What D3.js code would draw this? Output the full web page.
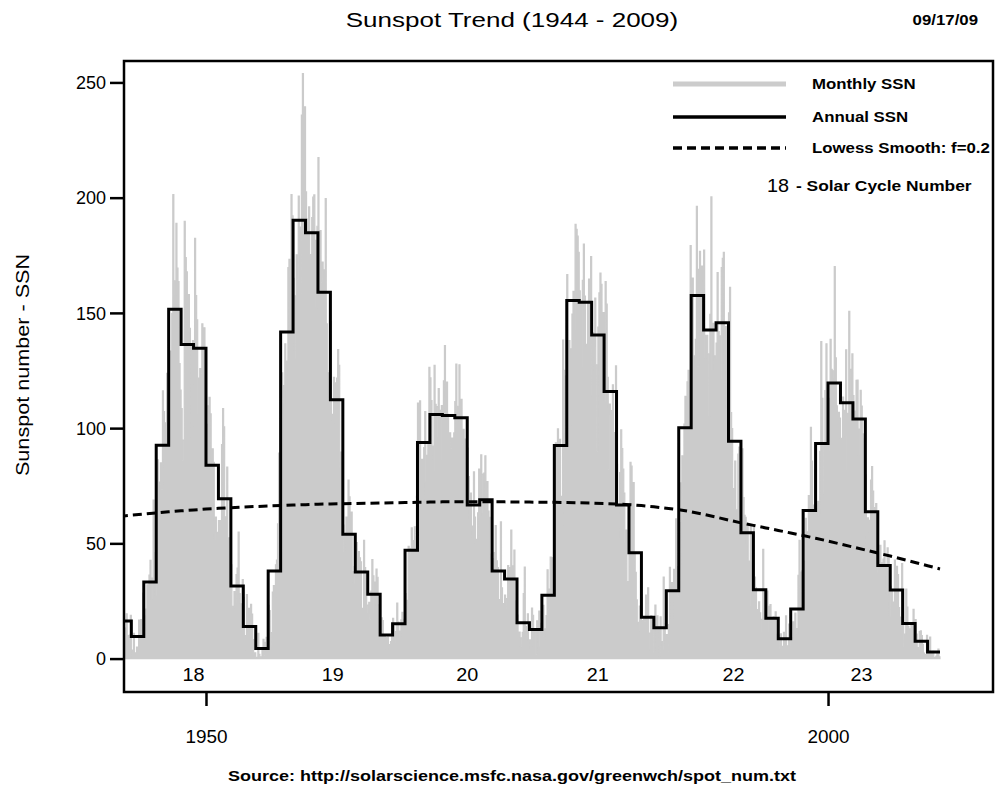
<!DOCTYPE html>
<html lang="en">
  <head>
    <meta charset="utf-8">
    <title>Sunspot Trend</title>
    <script src="https://d3js.org/d3.v7.min.js"></script>
    <style type="text/css">
      body { margin: 0; background: #fff; }
      text { font-family: Arial, "Liberation Sans", sans-serif; fill: #000; }
      .monthly { fill: #cbcbcb; stroke: #cbcbcb; stroke-width: 1.2px; }
      .annual { fill: none; stroke: #000; stroke-width: 3px; }
      .lowess { fill: none; stroke: #000; stroke-width: 3px; stroke-dasharray: 9,5; }
      .frame { fill: none; stroke: #000; stroke-width: 2.5px; }
    </style>
  </head>
  <body>
    <script>
      // monthly sunspot numbers, one row per year starting 1943
      var monthStartYear = 1943;
      var monthlySSN = [
        [12.4, 28.9, 27.4, 26.1, 14.1, 7.6, 13.2, 19.4, 10.0, 7.8, 10.2, 18.8],
        [3.7, 0.5, 11.0, 0.3, 2.5, 5.0, 5.0, 16.7, 14.3, 16.9, 10.8, 28.4],
        [18.5, 12.7, 21.5, 32.0, 30.6, 36.2, 42.6, 25.9, 34.9, 68.8, 46.0, 27.4],
        [47.6, 86.2, 76.6, 75.7, 84.9, 73.5, 116.2, 107.2, 94.4, 102.3, 123.8, 121.7],
        [115.7, 133.4, 129.8, 149.8, 201.3, 163.9, 157.9, 188.8, 169.4, 163.6, 128.0, 116.5],
        [108.5, 86.1, 94.8, 189.7, 174.0, 167.8, 142.2, 157.9, 143.3, 136.3, 95.8, 138.0],
        [119.1, 182.3, 157.5, 147.0, 106.2, 121.7, 125.8, 123.8, 145.3, 131.6, 143.5, 117.6],
        [101.6, 94.8, 109.7, 113.4, 106.2, 83.6, 91.0, 85.2, 51.3, 61.4, 54.8, 54.1],
        [59.9, 59.9, 59.9, 92.9, 108.5, 100.6, 61.5, 61.0, 83.1, 51.6, 52.4, 45.8],
        [40.7, 22.7, 22.0, 29.1, 23.4, 36.4, 39.3, 54.9, 28.2, 23.8, 22.1, 34.3],
        [26.5, 3.9, 10.0, 27.8, 12.5, 21.8, 8.6, 23.5, 19.3, 8.2, 1.6, 2.5],
        [0.2, 0.5, 10.9, 1.8, 0.8, 0.2, 4.8, 8.4, 1.5, 7.0, 9.2, 7.6],
        [23.1, 20.8, 4.9, 11.3, 28.9, 31.7, 26.7, 40.7, 42.7, 58.5, 89.2, 76.9],
        [73.6, 124.0, 118.4, 110.7, 136.6, 116.6, 129.1, 169.6, 173.2, 155.3, 201.3, 192.1],
        [165.0, 130.2, 157.4, 175.2, 164.6, 200.7, 187.2, 158.0, 235.8, 253.8, 210.9, 239.4],
        [202.5, 164.9, 190.7, 196.0, 175.3, 171.5, 191.4, 200.2, 201.2, 181.5, 152.3, 187.6],
        [217.4, 143.1, 185.7, 163.3, 172.0, 168.7, 149.6, 199.6, 145.2, 111.4, 124.0, 125.0],
        [146.3, 106.0, 102.2, 122.0, 119.6, 110.2, 121.7, 134.1, 127.2, 82.8, 89.6, 85.6],
        [57.9, 46.1, 53.0, 61.4, 51.0, 77.4, 70.2, 55.8, 63.6, 37.7, 32.6, 39.9],
        [38.7, 50.3, 45.6, 46.4, 43.7, 42.0, 21.8, 21.8, 51.3, 39.5, 26.9, 23.2],
        [19.8, 24.4, 17.1, 29.3, 43.0, 35.9, 19.6, 33.2, 38.8, 35.3, 23.4, 14.9],
        [15.3, 17.7, 16.5, 8.6, 9.5, 9.1, 3.1, 9.3, 4.7, 6.1, 7.4, 15.1],
        [17.5, 14.2, 11.7, 6.8, 24.1, 15.9, 11.9, 8.9, 16.8, 20.1, 15.8, 17.0],
        [28.2, 24.4, 25.3, 48.7, 45.3, 47.7, 56.7, 51.2, 50.2, 57.2, 57.2, 70.4],
        [110.9, 93.6, 111.8, 69.5, 86.5, 67.3, 91.5, 107.2, 76.8, 88.2, 94.3, 126.4],
        [121.8, 111.9, 92.2, 81.2, 127.2, 110.3, 96.1, 109.3, 117.2, 107.7, 86.0, 109.8],
        [104.4, 120.5, 135.8, 106.8, 120.0, 106.0, 96.8, 98.0, 91.3, 95.7, 93.5, 97.9],
        [111.5, 127.8, 102.9, 109.5, 127.5, 106.8, 112.5, 93.0, 99.5, 86.6, 95.2, 83.5],
        [91.3, 79.0, 60.7, 71.8, 57.5, 49.8, 81.0, 61.4, 50.2, 51.7, 63.2, 82.2],
        [61.5, 88.4, 80.1, 63.2, 80.5, 88.0, 76.5, 76.8, 64.0, 61.3, 41.6, 45.3],
        [43.4, 42.9, 46.0, 57.7, 42.4, 39.5, 23.1, 25.6, 59.3, 30.7, 23.9, 23.3],
        [27.6, 26.0, 21.3, 40.3, 39.5, 36.0, 55.8, 33.6, 40.2, 47.1, 25.0, 20.5],
        [18.9, 11.5, 11.5, 5.1, 9.0, 11.4, 28.2, 39.7, 13.9, 9.1, 19.4, 7.8],
        [8.1, 4.3, 21.9, 18.8, 12.4, 12.2, 1.9, 16.4, 13.5, 20.6, 5.2, 15.3],
        [16.4, 23.1, 8.7, 12.9, 18.6, 38.5, 21.4, 30.1, 44.0, 43.8, 29.1, 43.2],
        [51.9, 93.6, 76.5, 99.7, 82.7, 95.1, 70.4, 58.1, 138.2, 125.1, 97.9, 122.7],
        [166.6, 137.5, 138.0, 101.5, 134.4, 149.5, 159.4, 142.2, 188.4, 186.2, 183.3, 176.3],
        [159.6, 155.0, 126.2, 164.1, 179.9, 157.3, 136.3, 135.4, 155.0, 164.7, 147.9, 174.4],
        [114.0, 141.3, 135.5, 156.4, 127.5, 90.0, 143.8, 158.7, 167.3, 162.4, 137.5, 150.1],
        [111.2, 163.6, 153.8, 122.0, 82.2, 110.4, 106.1, 107.6, 118.8, 94.7, 98.1, 127.0],
        [84.3, 51.0, 66.5, 80.7, 99.2, 91.1, 82.2, 71.8, 50.3, 55.8, 33.3, 33.4],
        [57.0, 85.1, 83.5, 69.4, 76.4, 46.1, 37.4, 25.5, 15.7, 12.0, 22.8, 18.7],
        [16.5, 15.9, 17.2, 16.2, 27.5, 24.2, 30.7, 11.1, 3.9, 18.6, 16.2, 17.3],
        [2.5, 23.2, 15.1, 18.5, 13.7, 1.1, 18.1, 7.4, 3.8, 35.4, 15.2, 6.8],
        [10.4, 2.4, 14.7, 39.6, 33.0, 17.4, 33.0, 38.7, 33.9, 60.6, 39.9, 27.1],
        [59.0, 40.0, 76.2, 88.0, 60.1, 101.8, 113.8, 111.0, 120.1, 125.1, 125.1, 179.2],
        [161.3, 165.1, 131.4, 130.6, 138.5, 196.2, 126.9, 168.9, 176.7, 159.4, 170.3, 165.1],
        [177.3, 130.5, 140.3, 140.3, 132.2, 105.4, 149.4, 200.3, 125.2, 145.5, 131.4, 129.7],
        [136.9, 167.5, 141.9, 140.0, 121.3, 169.7, 173.7, 176.3, 125.3, 144.1, 108.2, 144.4],
        [150.0, 161.1, 106.7, 99.8, 73.8, 65.2, 85.7, 64.5, 63.9, 88.7, 91.8, 82.6],
        [59.3, 91.0, 69.8, 62.2, 61.3, 49.8, 57.9, 42.3, 22.8, 58.1, 33.6, 41.8],
        [57.5, 35.4, 30.7, 21.3, 19.8, 24.6, 19.8, 17.0, 11.2, 47.4, 29.8, 21.3],
        [23.7, 29.3, 22.7, 11.5, 23.4, 17.3, 12.0, 18.1, 17.0, 20.3, 10.0, 10.5],
        [4.2, 10.2, 10.7, 5.3, 5.2, 11.4, 10.9, 18.5, 5.5, 0.9, 15.0, 10.2],
        [5.5, 9.1, 15.9, 15.5, 19.7, 13.0, 10.8, 36.1, 51.3, 23.1, 37.5, 38.2],
        [30.3, 42.3, 60.9, 55.0, 53.7, 70.7, 65.8, 100.3, 85.7, 62.7, 66.6, 81.8],
        [62.0, 67.1, 68.2, 62.0, 89.9, 137.5, 112.9, 93.4, 71.5, 116.3, 136.6, 104.2],
        [90.1, 112.9, 138.5, 125.5, 121.6, 124.9, 170.1, 130.5, 109.7, 99.4, 106.8, 104.4],
        [95.6, 80.6, 113.5, 107.7, 96.6, 134.0, 81.8, 106.4, 150.7, 125.5, 106.5, 132.2],
        [114.1, 107.4, 98.4, 120.7, 120.8, 88.3, 99.6, 116.4, 109.6, 97.5, 95.5, 80.8],
        [79.7, 46.0, 61.1, 60.0, 54.6, 77.4, 83.3, 72.7, 48.7, 65.5, 67.3, 46.5],
        [37.3, 45.8, 49.1, 39.3, 41.5, 43.2, 51.1, 40.9, 27.7, 48.0, 43.5, 17.9],
        [31.3, 29.2, 24.5, 24.2, 42.7, 39.3, 40.0, 36.4, 22.1, 8.5, 18.0, 41.2],
        [15.3, 4.9, 10.6, 30.2, 22.3, 13.9, 12.2, 12.9, 14.4, 10.5, 21.4, 13.6],
        [16.9, 10.6, 4.8, 3.7, 11.7, 12.0, 10.0, 6.2, 2.4, 0.9, 1.7, 10.1],
        [3.4, 2.1, 9.3, 2.9, 2.9, 3.1, 0.5, 0.5, 1.1, 2.9, 4.1, 0.8]
      ];

      // annual means 1943 - 2008
      var annualStartYear = 1943;
      var annualSSN = [16.3, 9.6, 33.2, 92.6, 151.6, 136.3, 134.7, 83.9, 69.4, 31.5,
        13.9, 4.4, 38.0, 141.7, 190.2, 184.8, 159.0, 112.3, 53.9, 37.6,
        27.9, 10.2, 15.1, 47.0, 93.8, 105.9, 105.5, 104.5, 66.6, 68.9,
        38.0, 34.5, 15.5, 12.6, 27.5, 92.5, 155.4, 154.6, 140.4, 115.9,
        66.6, 45.9, 17.9, 13.4, 29.4, 100.2, 157.6, 142.6, 145.7, 94.3,
        54.6, 29.9, 17.5, 8.6, 21.5, 64.3, 93.3, 119.6, 111.0, 104.0,
        63.7, 40.4, 29.8, 15.2, 7.5, 2.9];

      // lowess smooth (f=0.2), read per year 1943 - 2009
      var lowessStartYear = 1943;
      var lowessSSN = [61.7, 62.2, 62.7, 63.2, 63.7, 64.1, 64.5, 64.9, 65.2, 65.5,
        65.8, 66.0, 66.2, 66.4, 66.6, 66.8, 67.0, 67.1, 67.2, 67.3,
        67.4, 67.5, 67.6, 67.7, 67.8, 67.9, 68.0, 68.0, 68.0, 68.0,
        68.0, 68.0, 67.9, 67.9, 67.8, 67.8, 67.7, 67.6, 67.5, 67.3,
        67.1, 66.8, 66.4, 65.9, 65.2, 64.6, 63.7, 62.6, 61.4, 60.1,
        58.9, 57.8, 56.7, 55.6, 54.5, 53.4, 52.2, 51.0, 49.7, 48.4,
        47.1, 45.8, 44.5, 43.1, 41.7, 40.3, 38.9];

      var cycleNumbers = ["18", "19", "20", "21", "22", "23"];
      var cycleLabelYears = [1949.0, 1960.2, 1971.0, 1981.5, 1992.4, 2002.7];

      var yTicks = [0, 50, 100, 150, 200, 250];
      var xTicks = [1950, 2000];

      var legendLabels = ["Monthly SSN", "Annual SSN", "Lowess Smooth: f=0.2"];

      var w = 996, h = 789;
      var plotLeft = 124, plotRight = 993, plotTop = 61, plotBottom = 692;
      var stretch = 1.2;

      var svg = d3.select("body").append("svg")
          .attr("width", w).attr("height", h);

      var xScale = d3.scaleLinear()
        .domain([1943.41, 2013.26])
        .range([plotLeft, plotRight]);

      var yScale = d3.scaleLinear()
        .domain([-14.5, 259.3])
        .range([plotBottom, plotTop]);

      // flatten monthly rows into points
      var monthly = [];
      monthlySSN.forEach(function(row, i) {
        row.forEach(function(v, m) {
          monthly.push({t: monthStartYear + i + m / 12, v: v});
        });
      });
      monthly.push({t: monthStartYear + monthlySSN.length, v: monthly[monthly.length - 1].v});

      var annual = annualSSN.map(function(v, i) { return {t: annualStartYear + i, v: v}; });
      annual.push({t: annualStartYear + annualSSN.length, v: annualSSN[annualSSN.length - 1]});

      var lowess = lowessSSN.map(function(v, i) { return {t: lowessStartYear + i, v: v}; });

      svg.append("clipPath").attr("id", "plot")
        .append("rect")
        .attr("x", plotLeft).attr("y", plotTop)
        .attr("width", plotRight - plotLeft).attr("height", plotBottom - plotTop);

      var plot = svg.append("g").attr("clip-path", "url(#plot)");

      var areaGen = d3.area()
        .x(d => xScale(d.t))
        .y0(yScale(0))
        .y1(d => yScale(d.v))
        .curve(d3.curveStepAfter);

      var stepGen = d3.line()
        .x(d => xScale(d.t))
        .y(d => yScale(d.v))
        .curve(d3.curveStepAfter);

      var lineGen = d3.line()
        .x(d => xScale(d.t))
        .y(d => yScale(d.v));

      plot.append("path").datum(monthly).attr("class", "monthly").attr("d", areaGen);
      plot.append("path").datum(annual).attr("class", "annual").attr("d", stepGen);
      plot.append("path").datum(lowess).attr("class", "lowess").attr("d", lineGen);

      // widen text horizontally like the original
      function widen(sel, k) {
        sel.each(function() {
          var len = this.getComputedTextLength();
          d3.select(this).attr("textLength", len * (k || stretch))
            .attr("lengthAdjust", "spacingAndGlyphs");
        });
      }

      // cycle numbers
      plot.selectAll(".cycle").data(cycleNumbers).enter().append("text")
        .attr("class", "cycle")
        .attr("x", (d, i) => xScale(cycleLabelYears[i]))
        .attr("y", 681)
        .attr("text-anchor", "middle")
        .style("font-size", "18px")
        .text(d => d)
        .call(widen, 1.1);

      // axes
      var yAxis = d3.axisLeft(yScale).tickValues(yTicks).tickSize(14).tickPadding(4);
      var gy = svg.append("g").attr("transform", "translate(" + plotLeft + ",0)").call(yAxis);
      gy.select(".domain").remove();
      gy.selectAll("line").attr("stroke-width", 2.5);
      gy.selectAll("text").style("font-size", "18px").attr("dy", "0.35em");

      var xAxis = d3.axisBottom(xScale).tickValues(xTicks).tickSize(14).tickPadding(24)
        .tickFormat(d3.format("d"));
      var gx = svg.append("g").attr("transform", "translate(0," + plotBottom + ")").call(xAxis);
      gx.select(".domain").remove();
      gx.selectAll("line").attr("stroke-width", 2.5);
      gx.selectAll("text").style("font-size", "18px").call(widen, 1.05);

      svg.append("rect").attr("class", "frame")
        .attr("x", plotLeft).attr("y", plotTop)
        .attr("width", plotRight - plotLeft).attr("height", plotBottom - plotTop);

      // titles
      svg.append("text").attr("x", 512).attr("y", 27).attr("text-anchor", "middle")
        .style("font-size", "20px").text("Sunspot Trend (1944 - 2009)").call(widen, 1.3);
      svg.append("text").attr("x", 978).attr("y", 25).attr("text-anchor", "end")
        .style("font-size", "14px").style("font-weight", "bold").text("09/17/09").call(widen);
      svg.append("text")
        .attr("transform", "translate(29,365) rotate(-90)")
        .attr("text-anchor", "middle")
        .style("font-size", "18px").text("Sunspot number - SSN").call(widen);
      svg.append("text").attr("x", 512).attr("y", 781).attr("text-anchor", "middle")
        .style("font-size", "15px").style("font-weight", "bold")
        .text("Source: http://solarscience.msfc.nasa.gov/greenwch/spot_num.txt").call(widen);

      // legend
      var legend = svg.append("g");
      var legendY = [84, 117, 148];
      legend.append("line").attr("x1", 673).attr("x2", 786).attr("y1", legendY[0]).attr("y2", legendY[0])
        .attr("stroke", "#cccccc").attr("stroke-width", 5);
      legend.append("line").attr("x1", 673).attr("x2", 786).attr("y1", legendY[1]).attr("y2", legendY[1])
        .attr("stroke", "#000").attr("stroke-width", 3.5);
      legend.append("line").attr("x1", 673).attr("x2", 786).attr("y1", legendY[2]).attr("y2", legendY[2])
        .attr("stroke", "#000").attr("stroke-width", 3.5).attr("stroke-dasharray", "9,5");
      legend.selectAll(".lab").data(legendLabels).enter().append("text")
        .attr("class", "lab")
        .attr("x", 812).attr("y", (d, i) => legendY[i] + 5)
        .style("font-size", "14px").style("font-weight", "bold")
        .text(d => d).call(widen);
      legend.append("text").attr("x", 789).attr("y", 192).attr("text-anchor", "end")
        .style("font-size", "18px").text("18").call(widen, 1.1);
      legend.append("text").attr("x", 796).attr("y", 191)
        .style("font-size", "14px").style("font-weight", "bold")
        .text("- Solar Cycle Number").call(widen, 1.24);
    </script>
  </body>
</html>
